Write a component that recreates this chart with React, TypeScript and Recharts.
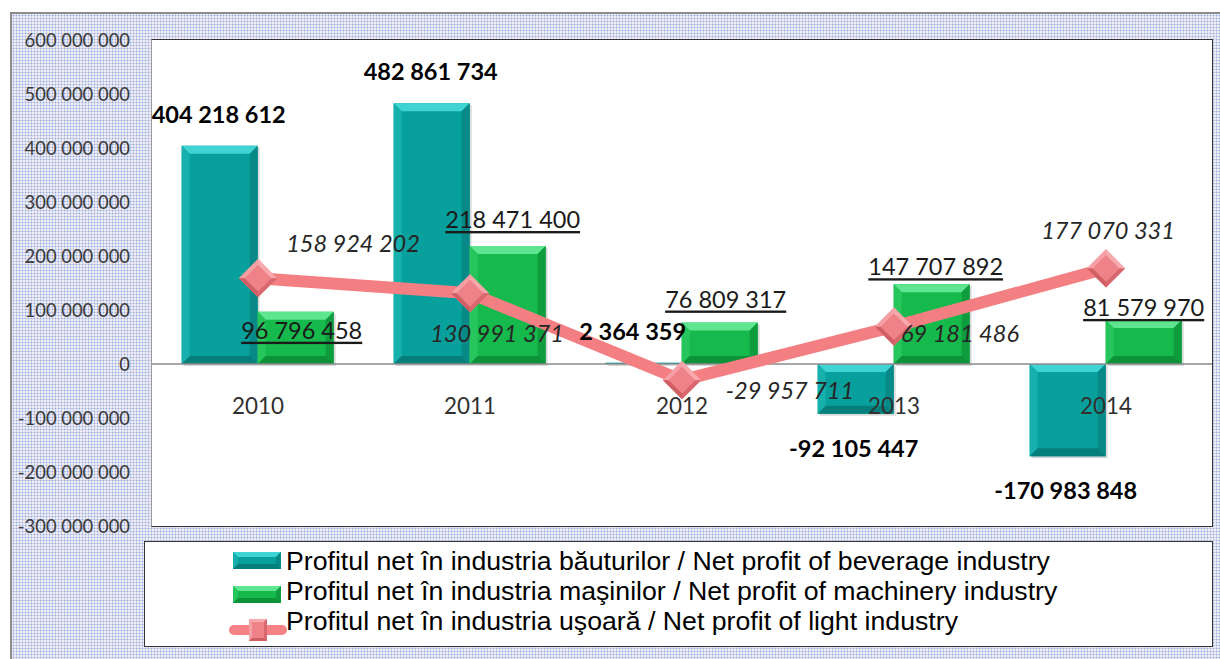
import React from "react";
import {
  ComposedChart,
  Bar,
  Line,
  XAxis,
  YAxis,
  ReferenceLine,
  LabelList,
  Legend,
} from "recharts";

const years = ["2010", "2011", "2012", "2013", "2014"];
const beverageProfit = [404218612, 482861734, 2364359, -92105447, -170983848];
const machineryProfit = [96796458, 218471400, 76809317, 147707892, 81579970];
const lightProfit = [158924202, 130991371, -29957711, 69181486, 177070331];
const yTicks = [
  600000000, 500000000, 400000000, 300000000, 200000000, 100000000, 0,
  -100000000, -200000000, -300000000,
];

const seriesNames = {
  beverage: "Profitul net în industria băuturilor / Net profit of beverage industry",
  machinery: "Profitul net în industria maşinilor / Net profit of machinery industry",
  light: "Profitul net în industria uşoară / Net profit of light industry",
};

// hand-placed label nudges (px), like the moved labels in the original
const beverageLabelDx = [-1, -1, -11, -2, -2];
const machineryLabelNudge = [[6, 18], [5, -27], [6, -24], [4, -18], [0, -13]];
const lightLabelNudge = [[95, -35], [27, 40], [108, 10], [66, 6], [2, -38]];

const data = years.map((year, i) => ({
  year,
  beverage: beverageProfit[i],
  machinery: machineryProfit[i],
  light: lightProfit[i],
}));

const W = 1220;
const H = 659;
const M = { top: 40, right: 8, bottom: 132, left: 0 };
const X_AXIS_H = 1;
const Y_AXIS_W = 152;
const Y_MAX = 600000000;
const Y_MIN = -300000000;
const PLOT_H = H - M.top - M.bottom - X_AXIS_H;
const ZERO_Y = M.top + (PLOT_H * Y_MAX) / (Y_MAX - Y_MIN);

const fmt = (v: number) =>
  (v < 0 ? "-" : "") +
  Math.abs(v).toString().replace(/\B(?=(\d{3})+(?!\d))/g, " ");

type Pal = { face: string; top: string; left: string; right: string; bottom: string };
const teal: Pal = { face: "#08a09d", top: "#3fd3d3", left: "#16b0ad", right: "#078a87", bottom: "#067f7c" };
const green: Pal = { face: "#16b94c", top: "#5fe58f", left: "#27c65c", right: "#0f9c3e", bottom: "#0d9139" };
const pink: Pal = { face: "#ef8288", top: "#f7a9ad", left: "#f5a0a5", right: "#d8676e", bottom: "#cf5e65" };

function bevel(x: number, y: number, w: number, h: number, b: number, p: Pal) {
  return (
    <>
      <rect x={x} y={y} width={w} height={h} fill={p.face} />
      <polygon points={`${x},${y} ${x + w},${y} ${x + w - b},${y + b} ${x + b},${y + b}`} fill={p.top} />
      <polygon points={`${x},${y} ${x + b},${y + b} ${x + b},${y + h - b} ${x},${y + h}`} fill={p.left} />
      <polygon points={`${x + w},${y} ${x + w},${y + h} ${x + w - b},${y + h - b} ${x + w - b},${y + b}`} fill={p.right} />
      <polygon points={`${x},${y + h} ${x + w},${y + h} ${x + w - b},${y + h - b} ${x + b},${y + h - b}`} fill={p.bottom} />
    </>
  );
}

const BevelBar = (props: any, p: Pal) => {
  let { x, y, width: w, height: h } = props;
  if (h < 0) {
    y = y + h;
    h = -h;
  }
  const b = Math.min(8, h / 2, w / 2);
  return (
    <g>
      <rect x={x + 2} y={y + 2} width={w} height={h} fill="rgba(0,0,0,0.15)" />
      {bevel(x, y, w, h, b, p)}
    </g>
  );
};

const Diamond = (props: any) => {
  const { cx, cy, index } = props;
  const s = 27;
  return (
    <g key={`d-${index}`} transform={`translate(${cx},${cy}) rotate(45)`}>
      {bevel(-s / 2, -s / 2, s, s, 4, pink)}
    </g>
  );
};

const idxOf = (props: any, arr: number[]) =>
  typeof props.index === "number" ? props.index : arr.indexOf(props.value);

const rectOf = (props: any) => {
  const vb = props.viewBox && props.viewBox.width !== undefined ? props.viewBox : props;
  const top = Math.min(vb.y, vb.y + vb.height);
  const bottom = Math.max(vb.y, vb.y + vb.height);
  return { cx: vb.x + vb.width / 2, top, bottom };
};

const BeverageLabel = (props: any) => {
  const i = idxOf(props, beverageProfit);
  const v = beverageProfit[i];
  const r = rectOf(props);
  return (
    <text
      x={r.cx + beverageLabelDx[i]}
      y={v >= 0 ? r.top - 32 : r.bottom + 34}
      textAnchor="middle"
      dominantBaseline="central"
      fontFamily="Lato"
      fontWeight="bold"
      fontSize={23.5}
      fill="#000"
    >
      {fmt(v)}
    </text>
  );
};

const MachineryLabel = (props: any) => {
  const i = idxOf(props, machineryProfit);
  const r = rectOf(props);
  const [dx, dy] = machineryLabelNudge[i];
  return (
    <text
      x={r.cx + dx}
      y={r.top + dy}
      textAnchor="middle"
      dominantBaseline="central"
      fontFamily="Lato"
      fontSize={23.5}
      fill="#1a1a1a"
      textDecoration="underline"
    >
      {fmt(machineryProfit[i])}
    </text>
  );
};

const LightLabel = (props: any) => {
  const i = idxOf(props, lightProfit);
  const x = props.x ?? props.viewBox?.x;
  const y = props.y ?? props.viewBox?.y;
  const [dx, dy] = lightLabelNudge[i];
  return (
    <text
      x={x + dx}
      y={y + dy}
      textAnchor="middle"
      dominantBaseline="central"
      fontFamily="Lato"
      fontStyle="italic"
      fontSize={23.5}
      fill="#262626"
    >
      {fmt(lightProfit[i])}
    </text>
  );
};

const YearTick = (props: any) => (
  <text
    x={props.x}
    y={ZERO_Y + 41}
    textAnchor="middle"
    dominantBaseline="central"
    fontFamily="Lato"
    fontSize={22.4}
    fill="#303030"
  >
    {props.payload.value}
  </text>
);

const legendIcon = (key: string) => {
  if (key === "beverage")
    return <g transform="translate(2,6)">{bevel(0, 0, 48, 17, 5, teal)}</g>;
  if (key === "machinery")
    return <g transform="translate(2,10)">{bevel(0, 0, 48, 17, 5, green)}</g>;
  return (
    <g>
      <line x1={3} y1={24} x2={51} y2={24} stroke="#f48286" strokeWidth={10} strokeLinecap="round" />
      <g transform="translate(18,13)">{bevel(0, 0, 18, 22, 3, pink)}</g>
    </g>
  );
};

const LegendContent = (props: any) => {
  const payload = props.payload || [];
  return (
    <div style={{ paddingTop: 4 }}>
      {payload.map((e: any) => (
        <div key={e.dataKey} style={{ display: "flex", height: 30, alignItems: "flex-start" }}>
          <div style={{ width: 86 }} />
          <svg width={55} height={30} style={{ overflow: "visible", flex: "none" }}>
            {legendIcon(e.dataKey)}
          </svg>
          <span
            style={{
              fontFamily: "'Liberation Sans', Arial, sans-serif",
              fontSize: 26.7,
              lineHeight: "30px",
              color: "#000",
              whiteSpace: "nowrap",
            }}
          >
            {e.value}
          </span>
        </div>
      ))}
    </div>
  );
};

export default function App() {
  return (
    <div style={{ position: "absolute", left: 0, top: 0, width: W, height: H, background: "#fff", overflow: "hidden" }}>
      <div
        style={{
          position: "absolute",
          left: 10,
          top: 12,
          width: W - 10,
          height: H - 12,
          boxSizing: "border-box",
          borderTop: "2px solid #8c8c8c",
          borderLeft: "2px solid #8c8c8c",
          backgroundColor: "#eeeaf3",
          backgroundImage: "radial-gradient(circle, #8fabdd 0.8px, transparent 1.1px)",
          backgroundSize: "3px 3px",
        }}
      />
      <div
        style={{
          position: "absolute",
          left: 151,
          top: 39,
          width: W - M.right - Y_AXIS_W + 2,
          height: PLOT_H + 2,
          boxSizing: "border-box",
          background: "#fff",
          border: "1.5px solid #333",
          borderLeft: "1.5px solid #9a9a9a",
        }}
      />
      <ComposedChart
        width={W}
        height={H}
        data={data}
        margin={M}
        barCategoryGap="14%"
        barGap={0}
      >
        <ReferenceLine y={0} stroke="#8a8a8a" strokeWidth={1.5} />
        <YAxis
          type="number"
          domain={[Y_MIN, Y_MAX]}
          ticks={yTicks}
          width={Y_AXIS_W}
          axisLine={false}
          tickLine={false}
          tickSize={0}
          tickMargin={22}
          tickFormatter={fmt}
          tick={{ fontFamily: "Lato", fontSize: 18.4, fill: "#3a3a3a" }}
          interval={0}
        />
        <Bar
          dataKey="beverage"
          name={seriesNames.beverage}
          fill={teal.face}
          isAnimationActive={false}
          shape={(p: any) => BevelBar(p, teal)}
        >
          <LabelList dataKey="beverage" content={BeverageLabel} />
        </Bar>
        <Bar
          dataKey="machinery"
          name={seriesNames.machinery}
          fill={green.face}
          isAnimationActive={false}
          shape={(p: any) => BevelBar(p, green)}
        >
          <LabelList dataKey="machinery" content={MachineryLabel} />
        </Bar>
        <Line
          dataKey="light"
          name={seriesNames.light}
          stroke="#f37f82"
          strokeWidth={12}
          dot={Diamond}
          activeDot={false}
          isAnimationActive={false}
        >
          <LabelList dataKey="light" content={LightLabel} />
        </Line>
        <XAxis
          dataKey="year"
          height={X_AXIS_H}
          axisLine={false}
          tickLine={false}
          tick={YearTick}
          interval={0}
        />
        <Legend
          layout="horizontal"
          verticalAlign="middle"
          align="center"
          content={LegendContent}
          wrapperStyle={{
            left: 144,
            top: 541,
            width: 1069,
            height: 106,
            boxSizing: "border-box",
            border: "1.5px solid #333",
            background: "#fff",
          }}
        />
      </ComposedChart>
    </div>
  );
}
